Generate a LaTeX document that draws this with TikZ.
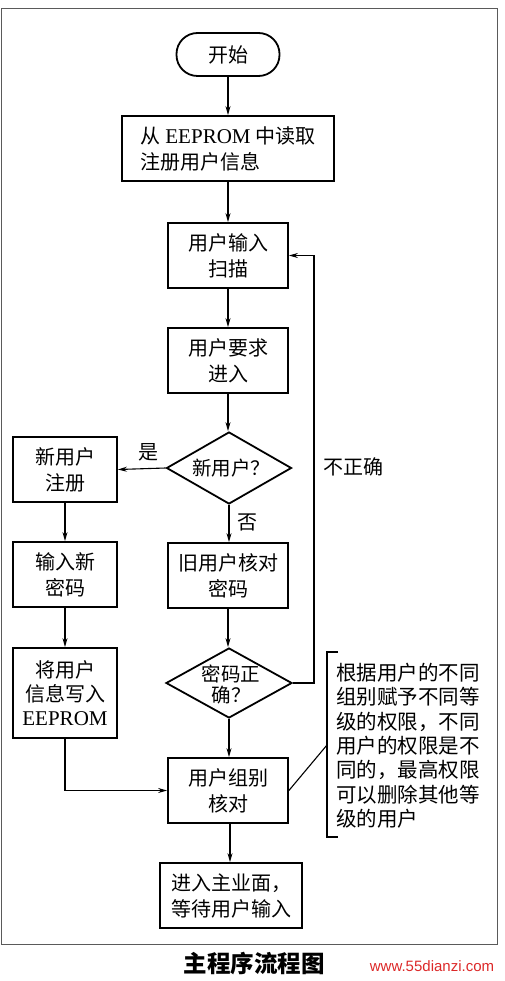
\documentclass[tikz,border=0pt]{standalone}
\usepackage{fontspec}
\setmainfont{Liberation Serif}
\newfontfamily\cjk{Noto Sans CJK SC}
\newfontfamily\webfont{Liberation Sans}
\usetikzlibrary{shapes.geometric,arrows.meta,calc}
\definecolor{webred}{RGB}{220,40,40}
\definecolor{framegray}{RGB}{90,90,90}
\tikzset{
  box/.style={draw, line width=1.8pt, rectangle, inner sep=0pt, align=center,
    font=\cjk\fontsize{20}{26}\selectfont},
  termbox/.style={box, rounded corners=21pt},
  dia/.style={draw, line width=1.8pt, diamond, inner sep=0pt},
  diatext/.style={inner sep=0pt, align=center, font=\cjk\fontsize{19.5}{21}\selectfont},
  lbl/.style={inner sep=0pt, font=\cjk\fontsize{20}{24}\selectfont},
  conn/.style={line width=1.1pt, -{Stealth[length=9pt,width=5pt]}},
  plain/.style={line width=1.1pt},
}
\begin{document}
\begin{tikzpicture}[x=1pt,y=-1pt]
\useasboundingbox (0,0) rectangle (505,981);
\draw[line width=1pt, framegray] (1.5,8.5) rectangle (497,944);

% main column
\node[termbox, minimum width=103pt, minimum height=43pt] (start) at (228,54.5) {开始};
\node[box, minimum width=212pt, minimum height=65pt, align=left] (read) at (228,148.5)
  {从 {\rmfamily\fontsize{21}{26}\selectfont EEPROM} 中读取\\注册用户信息};
\node[box, minimum width=120pt, minimum height=65pt] (scan) at (228,255.5) {用户输入\\扫描};
\node[box, minimum width=120pt, minimum height=65pt] (req) at (228,360.5) {用户要求\\进入};
\node[dia, minimum width=125pt, minimum height=72pt] (d1) at (229,468) {};
\node[diatext] (d1t) at (231,468) {新用户？};
\node[box, minimum width=120pt, minimum height=65pt] (old) at (228,575.5) {旧用户核对\\密码};
\node[dia, minimum width=126pt, minimum height=70pt] (d2) at (229,683) {};
\node[diatext] (d2t) at (231,684) {密码正\\确？};
\node[box, minimum width=120pt, minimum height=65pt] (group) at (228,790.5) {用户组别\\核对};
\node[box, minimum width=142pt, minimum height=65pt] (final) at (231,895.5) {进入主业面，\\等待用户输入};

% left column
\node[box, minimum width=104pt, minimum height=65pt] (newreg) at (65,469.5) {新用户\\注册};
\node[box, minimum width=104pt, minimum height=65pt] (pwd) at (65,574.5) {输入新\\密码};
\node[box, minimum width=104pt, minimum height=90pt, font=\cjk\fontsize{20}{24}\selectfont] (write) at (65,693)
  {将用户\\信息写入\\{\rmfamily\fontsize{21}{24}\selectfont EEPROM}};

% connectors
\draw[conn] (start.south) -- (read.north);
\draw[conn] (read.south) -- (scan.north);
\draw[conn] (scan.south) -- (req.north);
\draw[conn] (req.south) -- (req.south |- d1.north);
\draw[conn] (d1.west) -- (newreg.east);
\draw[conn] (d1.south) -- (d1.south |- old.north);
\draw[conn] (newreg.south) -- (pwd.north);
\draw[conn] (pwd.south) -- (write.north);
\draw[conn] (old.south) -- (old.south |- d2.north);
\draw[conn] (d2.south) -- (d2.south |- group.north);
\draw[conn] (group.south -| final.north) ++(-1,0) coordinate (gs) (gs |- group.south) -- (gs |- final.north);
\coordinate (fbx) at (314,0);
\draw[conn] (d2.east) -- (d2.east -| fbx) |- (scan.east);
\draw[conn] (write.south) |- (group.west);

% labels
\node[lbl] (yes) at (148,452) {是};
\node[lbl] (no) at (247,522) {否};
\node[lbl] (wrong) at (353,467) {不正确};

% annotation bracket
\coordinate (bt) at (338,652);
\coordinate (btl) at (327,652);
\coordinate (bbl) at (327,837);
\coordinate (bb) at (338,837);
\coordinate (bmid) at (327,745);
\draw[plain] (bt) -- (btl) -- (bbl) -- (bb);
\draw[plain] (group.east) -- (bmid);
\node[anchor=north west, align=left, inner sep=0pt,
  font=\cjk\fontsize{20.5}{24.3}\selectfont] (note) at (336,663)
  {根据用户的不同\\组别赋予不同等\\级的权限，不同\\用户的权限是不\\同的，最高权限\\可以删除其他等\\级的用户};

% caption
\node[inner sep=0pt, font=\cjk\bfseries\fontsize{23.5}{28}\selectfont] (cap) at (254,963) {主程序流程图};
\node[inner sep=0pt, text=webred, font=\webfont\fontsize{15}{18}\selectfont] (web) at (432,966) {www.55dianzi.com};
\end{tikzpicture}
\end{document}
